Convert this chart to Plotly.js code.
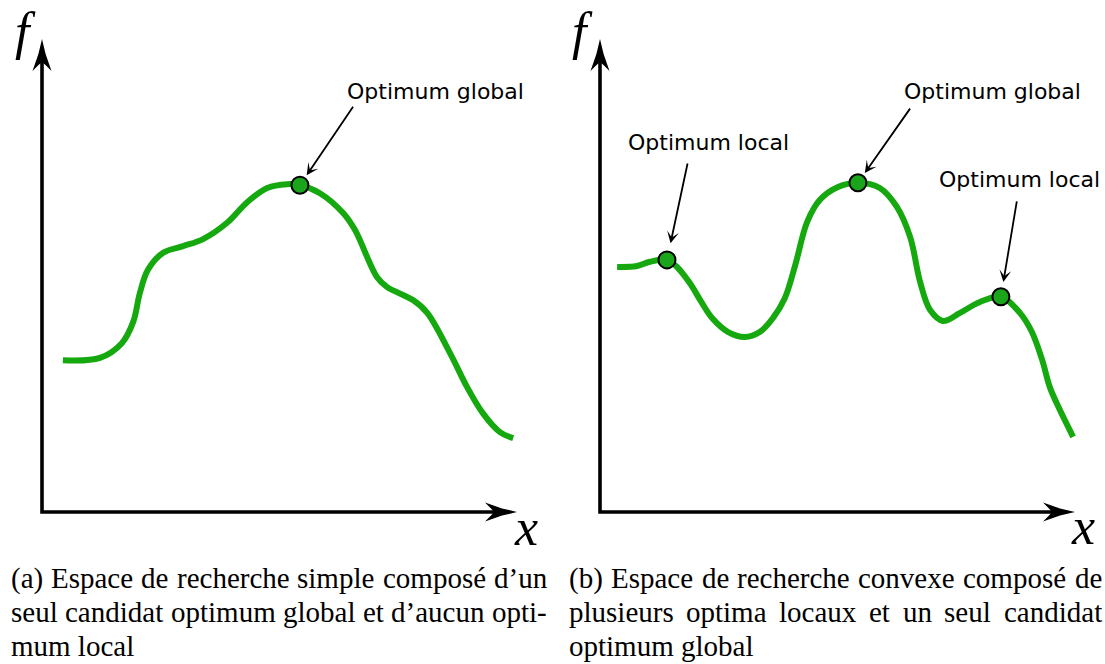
<!DOCTYPE html>
<html><head><meta charset="utf-8">
<script src="https://cdn.plot.ly/plotly-3.0.1.min.js"></script>
<style>html,body{margin:0;padding:0;background:#fff}#chart{width:1105px;height:664px}</style>
</head><body><div id="chart"></div>
<script>
// ---------- data ----------
const curveA_x = [0.44, 1.22, 1.68, 1.92, 2.06, 2.23, 2.55, 2.97, 3.39, 3.89, 4.32, 4.74, 5.16, 5.43, 5.85, 6.34, 6.59, 7.05, 7.26, 7.81, 8.11, 8.59, 8.95, 9.28, 9.64, 9.92];
const curveA_y = [3.21, 3.26, 3.57, 4.02, 4.63, 5.12, 5.48, 5.62, 5.77, 6.11, 6.55, 6.85, 6.93, 6.91, 6.74, 6.32, 5.96, 4.97, 4.76, 4.48, 4.21, 3.36, 2.64, 2.09, 1.69, 1.56];
const optA_x = [5.43];
const optA_y = [6.91];
const labelsA = ["Optimum global"];

const curveB_x = [0.36, 0.78, 1.05, 1.41, 1.62, 1.89, 2.11, 2.36, 2.69, 3.05, 3.37, 3.64, 3.89, 4.11, 4.36, 4.63, 5.01, 5.43, 5.89, 6.25, 6.53, 6.74, 6.95, 7.22, 7.58, 8.00, 8.44, 8.84, 9.09, 9.31, 9.47, 9.68, 9.96];
const curveB_y = [5.18, 5.20, 5.29, 5.33, 5.18, 4.84, 4.48, 4.10, 3.81, 3.70, 3.81, 4.10, 4.52, 5.22, 6.13, 6.60, 6.87, 6.96, 6.85, 6.45, 5.81, 4.86, 4.27, 4.04, 4.21, 4.44, 4.55, 4.21, 3.81, 3.21, 2.64, 2.16, 1.59];
const optB_x = [1.41, 5.43, 8.44];
const optB_y = [5.33, 6.96, 4.55];
const labelsB = ["Optimum local", "Optimum global", "Optimum local"];

const axisLabelY = "f";
const axisLabelX = "x";
const captionA = ["(a) Espace de recherche simple composé d’un", "seul candidat optimum global et d’aucun opti-", "mum local"];
const captionB = ["(b) Espace de recherche convexe composé de", "plusieurs optima locaux et un seul candidat", "optimum global"];

// ---------- layout helpers ----------
const W = 1105, H = 664;
const GREEN = '#16a80f';
const px = v => v / W;
const py = v => 1 - v / H;
const PPX = 47.5, PPY = 47.3;          // pixels per data unit
const SX = 1 / PPX, SY = 1 / PPY;      // data units per pixel
const PAD = 0.5;                       // range padding (data units) so the axis arrows are not clipped

const panels = [
  {xa: 'x', ya: 'y', x0: 42},
  {xa: 'x2', ya: 'y2', x0: 600}
];
const Y0 = 512; // pixel row of f = 0
const yDom = [py(Y0 + PAD * PPY), py(Y0 - (10 + PAD) * PPY)];

const traces = [];
function addPanel(p, cx, cy, ox, oy) {
  traces.push({x: cx, y: cy, xaxis: p.xa, yaxis: p.ya, mode: 'lines', cliponaxis: false,
    line: {color: GREEN, width: 6, shape: 'spline', smoothing: 1}, hoverinfo: 'skip'});
  traces.push({x: ox, y: oy, xaxis: p.xa, yaxis: p.ya, mode: 'markers', cliponaxis: false,
    marker: {size: 17, color: '#1aa51a', line: {color: '#000', width: 2}}, hoverinfo: 'skip'});
}
addPanel(panels[0], curveA_x, curveA_y, optA_x, optA_y);
addPanel(panels[1], curveB_x, curveB_y, optB_x, optB_y);

function poly(pts) {
  return 'M' + pts.map(p => p[0].toFixed(4) + ',' + p[1].toFixed(4)).join(' L') + ' Z';
}
const shapes = [];
panels.forEach(p => {
  shapes.push({type: 'path', xref: p.xa, yref: p.ya, path: 'M0,' + (10 - 20 * SY) + ' L0,0 L' + (10 - 20 * SX) + ',0',
    line: {color: '#000', width: 3.6}});
  const hx = [[0, 0], [-15, 3.6], [-32, 9.5], [-26, 3.5], [-23, 0], [-26, -3.5], [-32, -9.5], [-15, -3.6]];
  shapes.push({type: 'path', xref: p.xa, yref: p.ya,
    path: poly(hx.map(([a, b]) => [10 + a * SX, b * SY])), fillcolor: '#000', line: {width: 0}});
  shapes.push({type: 'path', xref: p.xa, yref: p.ya,
    path: poly(hx.map(([a, b]) => [b * SX, 10 + a * SY])), fillcolor: '#000', line: {width: 0}});
});

const annotations = [];
// axis letters
const mathFont = {family: 'Liberation Serif', size: 52, color: '#000', style: 'italic'};
[[25, 31], [582, 31]].forEach(([x, y]) => annotations.push({xref: 'paper', yref: 'paper', x: px(x), y: py(y),
  text: axisLabelY, showarrow: false, font: mathFont, xanchor: 'center', yanchor: 'middle'}));
[[526, 527], [1083, 526]].forEach(([x, y]) => annotations.push({xref: 'paper', yref: 'paper', x: px(x), y: py(y),
  text: axisLabelX, showarrow: false, font: mathFont, xanchor: 'center', yanchor: 'middle'}));

// optimum labels + arrows
const labFont = {family: 'DejaVu Sans', size: 22, color: '#000'};
const labA = [{pos: [435, 91.5], tail: [6.57, 8.60], so: 12}];
const labB = [{pos: [708, 142.5], tail: [1.85, 7.40], so: 17},
              {pos: [992.5, 92], tail: [6.55, 8.56], so: 12},
              {pos: [1019, 179.5], tail: [8.78, 6.60], so: 15}];
function addLabels(p, labels, ox, oy, cfg) {
  labels.forEach((t, i) => {
    const c = cfg[i];
    annotations.push({xref: 'paper', yref: 'paper', x: px(c.pos[0]), y: py(c.pos[1]), text: t,
      showarrow: false, font: labFont, xanchor: 'center', yanchor: 'middle'});
    annotations.push({xref: p.xa, yref: p.ya, x: ox[i], y: oy[i], axref: p.xa, ayref: p.ya,
      ax: c.tail[0], ay: c.tail[1], text: '', showarrow: true, arrowhead: 3, arrowsize: 1.1,
      arrowwidth: 1.8, arrowcolor: '#000', standoff: c.so});
  });
}
addLabels(panels[0], labelsA, optA_x, optA_y, labA);
addLabels(panels[1], labelsB, optB_x, optB_y, labB);

// captions (justified)
const capFontSize = 29;
const capFont = {family: 'Liberation Serif', size: capFontSize, color: '#000'};
const cv = document.createElement('canvas').getContext('2d');
cv.font = capFontSize + "px 'Liberation Serif'";
function addCaption(lines, x0, x1, yCenters) {
  lines.forEach((line, li) => {
    const y = py(yCenters[li]);
    if (li === lines.length - 1) {
      annotations.push({xref: 'paper', yref: 'paper', x: px(x0), y: y, text: line, showarrow: false,
        font: capFont, xanchor: 'left', yanchor: 'middle', borderpad: 0});
      return;
    }
    const words = line.split(' ');
    const widths = words.map(w => cv.measureText(w).width);
    const total = widths.reduce((a, b) => a + b, 0);
    const gap = (x1 - x0 - total) / (words.length - 1);
    let x = x0;
    words.forEach((w, wi) => {
      annotations.push({xref: 'paper', yref: 'paper', x: px(x), y: y, text: w, showarrow: false,
        font: capFont, xanchor: 'left', yanchor: 'middle', borderpad: 0});
      x += widths[wi] + gap;
    });
  });
}
addCaption(captionA, 10, 546, [578, 612, 646]);
addCaption(captionB, 568, 1101, [578, 612, 646]);

const axBase = {visible: false, range: [-PAD, 10 + PAD], fixedrange: true, showgrid: false, zeroline: false};
function xDom(x0) { return [px(x0 - PAD * PPX), px(x0 + (10 + PAD) * PPX)]; }
const layout = {
  width: W, height: H, margin: {l: 0, r: 0, t: 0, b: 0},
  paper_bgcolor: '#fff', plot_bgcolor: 'rgba(0,0,0,0)', showlegend: false,
  xaxis: Object.assign({}, axBase, {domain: xDom(panels[0].x0), anchor: 'y'}),
  yaxis: Object.assign({}, axBase, {domain: yDom, anchor: 'x'}),
  xaxis2: Object.assign({}, axBase, {domain: xDom(panels[1].x0), anchor: 'y2'}),
  yaxis2: Object.assign({}, axBase, {domain: yDom, anchor: 'x2'}),
  shapes: shapes, annotations: annotations
};
Plotly.newPlot('chart', traces, layout, {staticPlot: true, displayModeBar: false});
</script>
</body></html>
